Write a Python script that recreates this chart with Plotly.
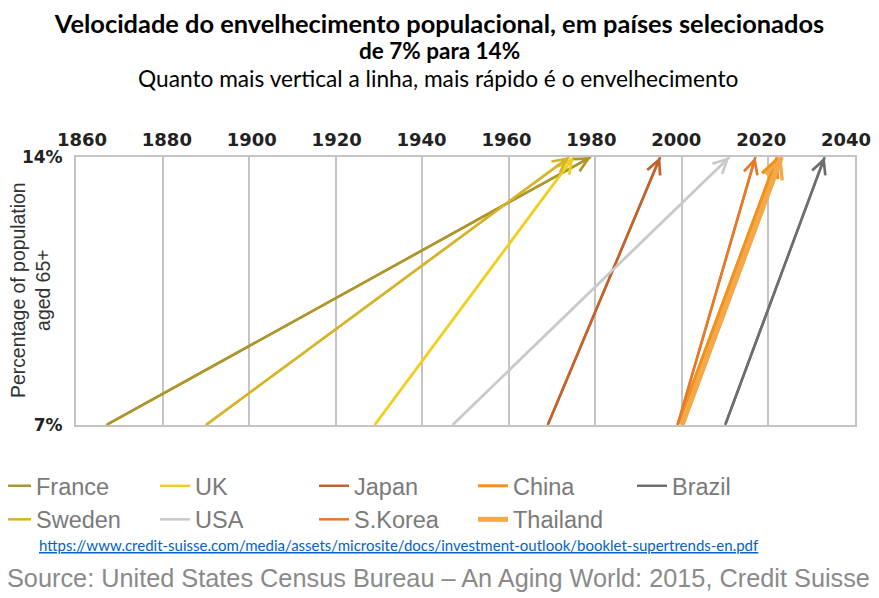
import plotly.graph_objects as go

# Data: year each country reached 7% and 14% share of population aged 65+
countries = ["France", "UK", "Japan", "China", "Brazil", "Sweden", "USA", "S.Korea", "Thailand"]
year_7pct = [1867, 1929, 1969, 1999, 2010, 1890, 1947, 1999, 2000]
year_14pct = [1979, 1975, 1995, 2022, 2033, 1974, 2011, 2017, 2023]
share_start = [7] * 9
share_end = [14] * 9
colors = ["#AD962C", "#F2CF1F", "#C4622D", "#F0921E", "#6E6E6E",
          "#D6B42A", "#CACACA", "#E6782A", "#F6A848"]
widths = [2.5, 2.5, 2.5, 3, 2.5, 2.5, 2.5, 2.5, 5]

x_ticks = list(range(1860, 2041, 20))
y_ticks = [7, 14]
y_ticktext = ["7%", "14%"]

# page offset compensation (the page body adds 8px around the figure)
OFF = 8
W, H = 879, 598
PL, PT, PW, PH = 76, 157, 779, 268   # plot area in screen pixels


def px(xs):
    return (xs - PL) / PW


def py(ys):
    return (PT + PH - ys) / PH


fig = go.Figure()
for name, x0, x1, y0, y1, c, w in zip(countries, year_7pct, year_14pct,
                                      share_start, share_end, colors, widths):
    fig.add_trace(go.Scatter(x=[x0, x1], y=[y0, y1], mode="lines", name=name,
                             line=dict(color=c, width=w), hoverinfo="name"))
    fig.add_annotation(x=x1, y=y1, ax=x0, ay=y0, xref="x", yref="y",
                       axref="x", ayref="y", text="", showarrow=True,
                       arrowhead=5, arrowsize=1.1 if w < 4 else 0.7,
                       arrowwidth=w, arrowcolor=c, standoff=0)

# invisible carrier trace so the top label axis is drawn
fig.add_trace(go.Scatter(x=x_ticks, y=[7] * len(x_ticks), xaxis="x2", yaxis="y",
                         mode="markers", marker=dict(opacity=0), showlegend=False,
                         hoverinfo="skip"))

tick_font = dict(family="DejaVu Sans", size=18, color="#222222", weight="bold")

# main x axis: gridlines and frame
fig.update_layout(xaxis=dict(range=[1860, 2040], tickvals=x_ticks, showticklabels=False,
                             showgrid=True, gridcolor="#C4C4C4", gridwidth=2,
                             showline=True, linecolor="#C4C4C4", linewidth=2,
                             mirror=True, zeroline=False, ticks="", automargin=False))
# top year labels (slightly compressed spacing, as in the original artwork)
fig.update_layout(xaxis2=dict(overlaying="x", side="top", anchor="y",
                              range=[1858.6, 2042.1], tickvals=x_ticks,
                              showgrid=False, showline=False, zeroline=False,
                              ticks="", ticklabelstandoff=6, automargin=False,
                              tickfont=tick_font, fixedrange=True))
fig.update_yaxes(range=[7, 14], tickvals=y_ticks, ticktext=y_ticktext,
                 showgrid=False, showline=True, linecolor="#C4C4C4",
                 linewidth=2, mirror=True, zeroline=False, ticks="",
                 ticklabelstandoff=8, automargin=False,
                 tickfont=dict(family="DejaVu Sans", size=17, color="#222222",
                               weight="bold"))

fig.update_layout(
    width=W, height=H,
    margin=dict(l=PL - OFF, r=W - (PL + PW - OFF), t=PT - OFF,
                b=H - (PT + PH - OFF), autoexpand=False),
    paper_bgcolor="white", plot_bgcolor="white",
    title=dict(text="<b>Velocidade do envelhecimento populacional, em países selecionados</b>",
               x=(439.5 - OFF) / W, xanchor="center", xref="container",
               y=1 - (24 - OFF) / H, yanchor="middle", yref="container",
               font=dict(family="Lato", size=25.4, color="black")),
    legend=dict(orientation="h", x=px(-4), xanchor="left", y=py(464), yanchor="top",
                entrywidth=114, entrywidthmode="pixels", traceorder="normal",
                font=dict(family="Liberation Sans", size=23.5, color="#7A7A7A"),
                itemclick=False, itemdoubleclick=False),
    showlegend=True,
)

# y-axis title (placed as rotated text beside the 7%/14% labels)
fig.add_annotation(text="Percentage of population<br>aged 65+", xref="paper", yref="paper",
                   x=px(30), y=py(290), xanchor="center",
                   yanchor="middle", textangle=-90, showarrow=False,
                   font=dict(family="Liberation Sans Narrow, Liberation Sans", size=19.4,
                             color="#333333"))
fig.add_annotation(text="<b>de 7% para 14%</b>", xref="paper", yref="paper",
                   x=px(439), y=py(50), xanchor="center",
                   yanchor="middle", showarrow=False,
                   font=dict(family="Lato", size=22.5, color="black"))
fig.add_annotation(text="Quanto mais vertical a linha, mais rápido é o envelhecimento",
                   xref="paper", yref="paper", x=px(438),
                   y=py(79), xanchor="center", yanchor="middle",
                   showarrow=False,
                   font=dict(family="Lato", size=22.7, color="black"))
fig.add_annotation(text="<u>https://www.credit-suisse.com/media/assets/microsite/docs/investment-outlook/booklet-supertrends-en.pdf</u>",
                   xref="paper", yref="paper", x=px(37),
                   y=py(545), xanchor="left", yanchor="middle",
                   showarrow=False,
                   font=dict(family="Lato", size=15, color="#0563C1"))
fig.add_annotation(text="Source: United States Census Bureau – An Aging World: 2015, Credit Suisse",
                   xref="paper", yref="paper", x=px(5),
                   y=py(578), xanchor="left", yanchor="middle",
                   showarrow=False,
                   font=dict(family="Liberation Sans", size=25.3, color="#8A8A8A"))

fig.write_html("out.html")
